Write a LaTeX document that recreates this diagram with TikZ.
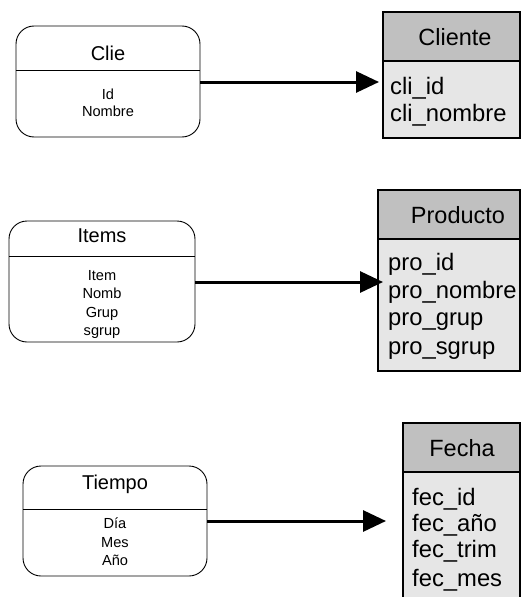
\documentclass[tikz,border=0pt]{standalone}
\usepackage{fontspec}
\setmainfont{Liberation Sans}
\usetikzlibrary{arrows.meta}
\definecolor{headgray}{HTML}{C0C0C0}
\definecolor{bodygray}{HTML}{E6E6E6}
\begin{document}
\begin{tikzpicture}[x=1pt,y=-1pt,
  srcbox/.style={draw=black,line width=0.9pt,rounded corners=18pt,fill=white,inner sep=0pt},
  divider/.style={draw=black,line width=0.8pt},
  tablehead/.style={draw=black,line width=1.2pt,fill=headgray,inner sep=0pt},
  tablebody/.style={draw=black,line width=1.2pt,fill=bodygray,inner sep=0pt},
  ttl/.style={inner sep=0pt,anchor=base,font=\fontsize{20}{24}\selectfont},
  attr/.style={inner sep=0pt,anchor=base,font=\fontsize{14.6}{16}\selectfont},
  thead/.style={inner sep=0pt,anchor=base,font=\fontsize{23.5}{27}\selectfont},
  tcol/.style={inner sep=0pt,anchor=base west,font=\fontsize{23.8}{27}\selectfont},
  conn/.style={line width=3pt,-{Triangle[length=23pt,width=21pt]}}]
\useasboundingbox (0,0) rectangle (521,597);

% ---- Clie -> Cliente ----
\node[srcbox,minimum width=184pt,minimum height=111pt] (clie) at (108,81.5) {};
\draw[divider] (16,70) -- (200,70);
\node[ttl] (clieT) at (108,60) {Clie};
\node[attr] (clieA) at (108,99.3) {Id};
\node[attr] (clieB) at (108,116.7) {Nombre};

\path[tablebody] (383,61) rectangle (520,138);
\node[tablehead,minimum width=137pt,minimum height=49pt] (cliente) at (451.5,36.5) {};
\draw[line width=1.2pt] (383,61) rectangle (520,138);
\node[thead] at (455,45.7) {Cliente};
\node[tcol] at (390,94.3) {cli\_id};
\node[tcol] at (390,121) {cli\_nombre};
\coordinate (cliIn) at (383,82);
\draw[conn,shorten >=4pt] (clie.east |- cliIn) -- (cliIn);

% ---- Items -> Producto ----
\node[srcbox,minimum width=186pt,minimum height=121pt] (items) at (102,281.5) {};
\draw[divider] (9,256) -- (195,256);
\node[ttl] at (102,242.3) {Items};
\node[attr] at (102,280.7) {Item};
\node[attr] at (102,298.3) {Nomb};
\node[attr] at (102,317.3) {Grup};
\node[attr] at (102,335.7) {sgrup};

\path[tablebody] (378,239) rectangle (520,371);
\node[tablehead,minimum width=142pt,minimum height=49pt] (producto) at (449,214.5) {};
\draw[line width=1.2pt] (378,239) rectangle (520,371);
\node[thead] at (458,223.3) {Producto};
\node[tcol] at (388,270.7) {pro\_id};
\node[tcol] at (388,298.3) {pro\_nombre};
\node[tcol] at (388,325.7) {pro\_grup};
\node[tcol] at (388,354) {pro\_sgrup};
\coordinate (proIn) at (378,282);
\draw[conn,shorten >=-5pt] (items.east |- proIn) -- (proIn);

% ---- Tiempo -> Fecha ----
\node[srcbox,minimum width=184pt,minimum height=110pt] (tiempo) at (115,521) {};
\draw[divider] (23,509) -- (207,509);
\node[ttl] at (115,489.3) {Tiempo};
\node[attr] at (115,528.3) {Día};
\node[attr] at (115,547.7) {Mes};
\node[attr] at (115,565.7) {Año};

\path[tablebody] (403,472) rectangle (520,605);
\node[tablehead,minimum width=117pt,minimum height=49pt] (fecha) at (461.5,447.5) {};
\draw[line width=1.2pt] (403,605) -- (403,472) -- (520,472) -- (520,605);
\node[thead] at (462,456) {Fecha};
\node[tcol] at (412,505.7) {fec\_id};
\node[tcol] at (412,531) {fec\_año};
\node[tcol] at (412,557.3) {fec\_trim};
\node[tcol] at (412,586.7) {fec\_mes};
\coordinate (fecIn) at (403,521);
\draw[conn,shorten >=17pt] (tiempo.east |- fecIn) -- (fecIn);
\end{tikzpicture}
\end{document}
